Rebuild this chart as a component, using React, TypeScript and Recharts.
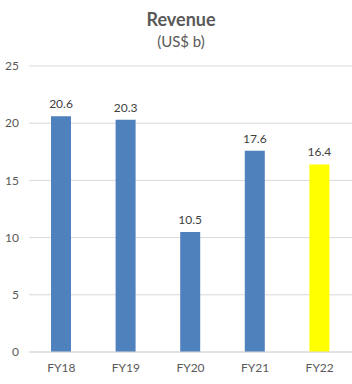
import { Bar, BarChart, CartesianGrid, Cell, LabelList, XAxis, YAxis } from 'recharts'

const years = ['FY18', 'FY19', 'FY20', 'FY21', 'FY22']
const revenue = [20.6, 20.3, 10.5, 17.6, 16.4]
const barColors = ['#4f81bd', '#4f81bd', '#4f81bd', '#4f81bd', '#ffff00']
const yTicks = [0, 5, 10, 15, 20, 25]

const data = years.map((fy, i) => ({ fy, revenue: revenue[i] }))

const font = 'Lato, "Open Sans", sans-serif'

export default function App() {
  return (
    <div style={{ position: 'relative', width: 352, height: 384, fontFamily: font }}>
      <style>{'body{margin:0}'}</style>
      <div style={{ position: 'absolute', left: 0, width: 362, top: 7, textAlign: 'center', color: '#595959' }}>
        <div style={{ fontSize: 18, fontWeight: 700, lineHeight: '24px' }}>Revenue</div>
        <div style={{ fontSize: 15, lineHeight: '20px' }}>(US$ b)</div>
      </div>
      <BarChart width={352} height={384} data={data} margin={{ top: 66, right: 0, left: 0, bottom: 0 }}>
        <CartesianGrid vertical={false} stroke="#d9d9d9" />
        <XAxis
          dataKey="fy"
          height={32}
          tickLine={false}
          tickSize={0}
          tickMargin={11}
          stroke="#d9d9d9"
          tick={{ fill: '#595959', fontSize: 12, fontFamily: font }}
        />
        <YAxis
          width={29}
          domain={[0, 25]}
          ticks={yTicks}
          axisLine={false}
          tickLine={false}
          tickSize={0}
          tickMargin={10}
          tick={{ fill: '#595959', fontSize: 12, fontFamily: font }}
        />
        <Bar dataKey="revenue" barSize={20} isAnimationActive={false}>
          {data.map((d, i) => (
            <Cell key={d.fy} fill={barColors[i]} />
          ))}
          <LabelList dataKey="revenue" position="top" offset={8} fill="#404040" fontSize={12} fontFamily={font} />
        </Bar>
      </BarChart>
    </div>
  )
}
